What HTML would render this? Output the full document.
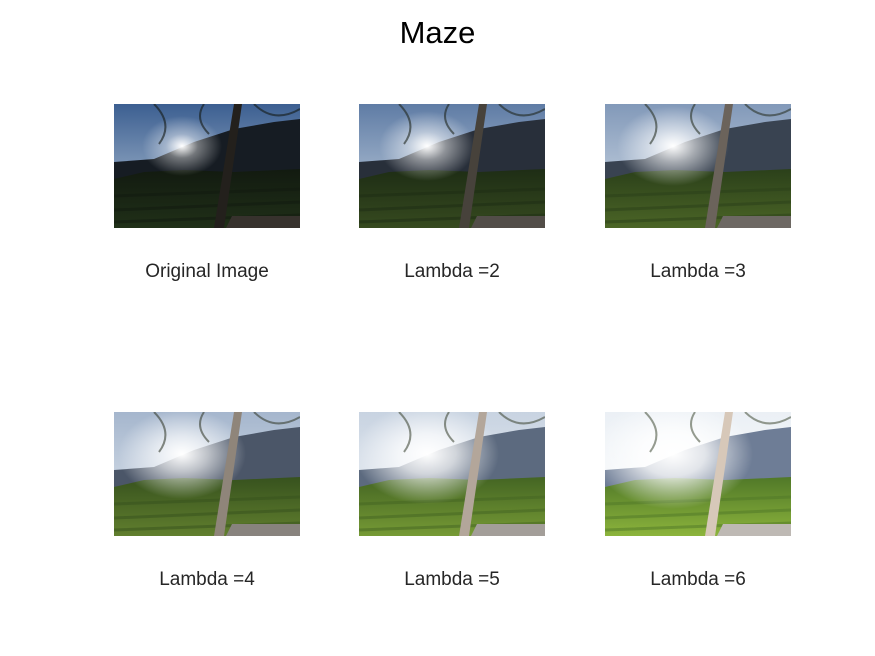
<!DOCTYPE html>
<html><head><meta charset="utf-8"><style>
body{margin:0;background:#fff;width:875px;height:656px;position:relative;overflow:hidden;font-family:"Liberation Sans",Arial,sans-serif;}
.t{position:absolute;color:#262626;font-size:19px;text-align:center;width:240px;}
#title{position:absolute;top:15px;left:0;width:875px;text-align:center;font-size:31px;color:#000;}
svg.img{position:absolute;}
</style></head><body>
<div id="title">Maze</div>
<div id="wrap"></div>
<script>
const labels=["Original Image","Lambda =2","Lambda =3","Lambda =4","Lambda =5","Lambda =6"];
const lambdas=[1,2,3,4,5,6];
const xs=[114,359,605],ys=[104,412];
const wrap=document.getElementById('wrap');
lambdas.forEach((L,i)=>{
 const x=xs[i%3],y=ys[Math.floor(i/3)];
 const k=(L-1)/5;
 const mix=(a,b)=>a.map((v,j)=>Math.round(v+(b[j]-v)*k));
 const c=a=>'rgb('+a.join(',')+')';
 const sky1=c(mix([60,95,145],[235,240,245])),sky2=c(mix([190,205,220],[255,255,255]));
 const mtn=c(mix([22,28,35],[110,125,150]));
 const g1=c(mix([18,26,16],[80,120,40])),g2=c(mix([32,48,24],[140,180,60]));
 const trunk=c(mix([35,32,28],[215,200,185]));
 const slab=c(mix([55,50,45],[190,185,180]));
 const glow=0.5+0.5*k;
 const s=document.createElementNS('http://www.w3.org/2000/svg','svg');
 
 
 s.setAttribute('class','img');s.setAttribute('width',186);s.setAttribute('height',124);
 s.style.left=x+'px';s.style.top=y+'px';
 s.innerHTML=`<defs><linearGradient id="sk${i}" x1="0" y1="0" x2="0" y2="1"><stop offset="0" stop-color="${sky1}"/><stop offset="1" stop-color="${sky2}"/></linearGradient>
 <linearGradient id="gr${i}" x1="0" y1="0" x2="0" y2="1"><stop offset="0" stop-color="${g1}"/><stop offset="1" stop-color="${g2}"/></linearGradient>
 <radialGradient id="sun${i}"><stop offset="0" stop-color="#fff" stop-opacity="1"/><stop offset="0.4" stop-color="#fff" stop-opacity="${glow*0.8}"/><stop offset="1" stop-color="#fff" stop-opacity="0"/></radialGradient></defs>
 <rect width="186" height="124" fill="url(#sk${i})"/>
 <path d="M0,58 L40,55 L80,38 L120,25 L160,18 L186,15 L186,124 L0,124Z" fill="${mtn}"/>
 <path d="M0,75 L30,68 L70,66 L120,68 L186,65 L186,124 L0,124Z" fill="url(#gr${i})"/>
 <path d="M0,92 L186,85 M0,106 L186,98 M0,118 L186,111" stroke="${g1}" stroke-width="3" opacity="0.5"/>
 <ellipse cx="68" cy="42" rx="${40+40*k}" ry="${30+25*k}" fill="url(#sun${i})"/>
 <polygon points="120,0 128,0 110,124 100,124" fill="${trunk}"/>
 <polygon points="118,112 186,112 186,124 112,124" fill="${slab}"/>
 <path d="M40,0 Q60,20 45,40 M90,0 Q80,15 95,30 M140,0 Q160,20 186,5" stroke="${c(mix([20,25,20],[80,90,70]))}" stroke-width="2" fill="none" opacity="0.6"/>`;
 wrap.appendChild(s);
 const t=document.createElement('div');
 
 
 t.className='t';t.textContent=labels[i];
 t.style.left=(x+93-120)+'px';t.style.top=(y+157)+'px';
 wrap.appendChild(t);
});
</script>
</body></html>
